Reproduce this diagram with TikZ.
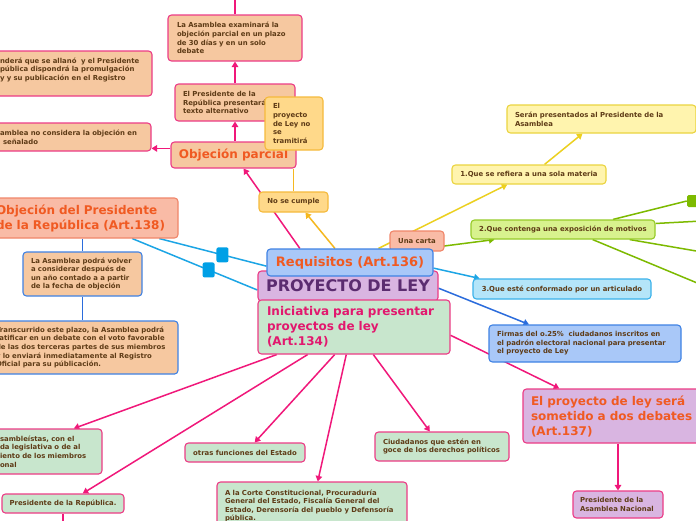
\documentclass[tikz,border=0pt]{standalone}
\usepackage{fontspec}
\setmainfont{DejaVu Sans}
\usetikzlibrary{arrows.meta,calc}
\pgfdeclarelayer{bg}
\pgfsetlayers{bg,main}
\definecolor{cPink}{HTML}{F0187A}
\definecolor{cPinkB}{HTML}{EC3C86}
\definecolor{cPeach}{HTML}{F6C8A0}
\definecolor{cSalmon}{HTML}{F9BBA6}
\definecolor{cSalmonB}{HTML}{F0866A}
\definecolor{cYel}{HTML}{FFD98A}
\definecolor{cYelB}{HTML}{F5BA3C}
\definecolor{cYelL}{HTML}{F5B820}
\definecolor{cLYel}{HTML}{FFF4AE}
\definecolor{cLYelB}{HTML}{EBD440}
\definecolor{cLYelL}{HTML}{ECD020}
\definecolor{cLime}{HTML}{D8F28E}
\definecolor{cLimeB}{HTML}{96CB28}
\definecolor{cLimeL}{HTML}{7DBA00}
\definecolor{cCyan}{HTML}{B4E5F9}
\definecolor{cCyanB}{HTML}{3AB2EA}
\definecolor{cCyanL}{HTML}{1CA5E5}
\definecolor{cBlue}{HTML}{A9C8F8}
\definecolor{cBlueB}{HTML}{3F82E4}
\definecolor{cBlueL}{HTML}{2B6CDC}
\definecolor{cLilac}{HTML}{D9B5E1}
\definecolor{cMint}{HTML}{C8E6CD}
\definecolor{cBrown}{HTML}{5E3B16}
\definecolor{cOrange}{HTML}{F05A22}
\definecolor{cPurple}{HTML}{5B2C70}
\definecolor{cPinkT}{HTML}{E2186E}
\definecolor{cSq}{HTML}{00A0E6}
\newcommand\smtxt{\fontsize{6.9pt}{8.6pt}\selectfont\bfseries}
\newcommand\lgtxt{\fontsize{12pt}{15pt}\selectfont\bfseries}
\newcommand\ml[1]{\mbox{#1}}
\begin{document}
\begin{tikzpicture}[x=1pt,y=-1pt,
  box/.style={draw, rounded corners=3.5pt, line width=1.1pt, inner ysep=0pt, inner xsep=2pt, font=\smtxt, text=cBrown},
  peachP/.style={fill=cPeach, draw=cPinkB},
  peachB/.style={fill=cPeach, draw=cBlueB},
  salmon/.style={fill=cSalmon, draw=cSalmonB},
  yel/.style={fill=cYel, draw=cYelB},
  lyel/.style={fill=cLYel, draw=cLYelB},
  lime/.style={fill=cLime, draw=cLimeB},
  cyanb/.style={fill=cCyan, draw=cCyanB},
  blueb/.style={fill=cBlue, draw=cBlueB},
  lilac/.style={fill=cLilac, draw=cPinkB},
  mint/.style={fill=cMint, draw=cPinkB},
  sqb/.style={fill=cSq, rounded corners=2pt, minimum width=12pt, minimum height=15pt, inner sep=0pt},
  sqg/.style={fill=cLimeL, rounded corners=1.5pt, minimum width=12pt, minimum height=12pt, inner sep=0pt},
  conn/.style={line width=1.5pt},
  arr/.style={-{Triangle[width=6.5pt,length=5.5pt]}}
]
\useasboundingbox (0,0) rectangle (696,520);
\begin{pgfonlayer}{bg}
\fill[white] (0,0) rectangle (696,520);
\end{pgfonlayer}

% ---------- upper left cluster ----------
\node[box,peachP,minimum height=46pt,inner xsep=9pt,text width=116pt,align=left] (exam) at (235,38)
  {\ml{La Asamblea examinará la}\\\ml{objeción parcial en un plazo}\\\ml{de 30 días y en un solo}\\\ml{debate}};
\node[box,peachP,minimum height=37pt,inner xsep=8pt,text width=104pt,align=left] (alt) at (235,102.5)
  {\ml{El Presidente de la}\\\ml{República presentará}\\\ml{texto alternativo}};
\node[box,peachP,minimum width=125pt,minimum height=26pt,font=\lgtxt,text=cOrange] (objp) at (233.5,155)
  {Objeción parcial};
\node[box,yel,minimum height=53pt,inner xsep=8pt,text width=42pt,align=left] (tram) at (294,123.5)
  {\ml{El}\\\ml{proyecto}\\\ml{de Ley no}\\\ml{se}\\\ml{tramitirá}};
\node[box,peachP,minimum height=28pt,inner xsep=12pt,text width=139pt,align=left] (nocons) at (69.5,137)
  {\ml{amblea no considera la objeción en}\\\ml{\hspace*{3pt}señalado}};
\node[box,peachP,minimum height=45pt,inner xsep=12pt,text width=140pt,align=left] (allano) at (70,73.5)
  {\ml{nderá que se allanó \ y el Presidente}\\\ml{pública dispondrá la promulgación}\\\ml{y y su publicación en el Registro}\\\mbox{}};
\node[box,salmon,minimum height=40pt,inner xsep=10pt,text width=172pt,align=left,font=\lgtxt,text=cOrange] (objpres) at (82,218)
  {\ml{Objeción del Presidente}\\\ml{de la República (Art.138)}};
\node[box,peachB,minimum height=44pt,inner xsep=8pt,text width=103pt,align=left] (asamvol) at (82.5,274)
  {\ml{La Asamblea podrá volver}\\\ml{a considerar después de}\\\ml{un año contado a a partir}\\\ml{de la fecha de objeción}};
\node[box,peachB,minimum height=53pt,inner xsep=8pt,text width=174pt,align=left] (transc) at (83,347.5)
  {\ml{Transcurrido este plazo, la Asamblea podrá}\\\ml{ratificar en un debate con el voto favorable}\\\ml{de las dos terceras partes de sus miembros}\\\ml{y lo enviará inmediatamente al Registro}\\\ml{Oficial para su públicación.}};

% ---------- bottom ----------
\node[box,mint,minimum height=45pt,inner xsep=12pt,text width=90pt,align=left] (asamb) at (45,451.5)
  {\ml{sambleístas, con el}\\\ml{da legislativa o de al}\\\ml{iento de los miembros}\\\ml{onal}};
\node[box,mint,minimum width=122pt,minimum height=19pt] (presrep) at (63,503.5) {Presidente de la República.};
\node[box,mint,minimum width=120pt,minimum height=19pt] (otras) at (245,452.5) {otras funciones del Estado};
\node[box,mint,minimum height=48pt,inner xsep=8pt,text width=174pt,align=left] (corte) at (312,506)
  {\ml{A la Corte Constitucional, Procuraduría}\\\ml{General del Estado, Fiscalía General del}\\\ml{Estado, Derensoría del pueblo y Defensoría}\\\ml{pública.}};
\node[box,mint,minimum height=29pt,inner xsep=8pt,text width=118pt,align=left] (ciud) at (442,446.5)
  {\ml{Ciudadanos que estén en}\\\ml{goce de los derechos políticos}};

% ---------- centre ----------
\node[box,salmon,minimum width=54pt,minimum height=20pt] (carta) at (417,241) {Una carta};
\node[box,yel,minimum width=69pt,minimum height=20pt] (nocumple) at (293.5,202) {No se cumple};
\node[box,lilac,minimum width=180pt,minimum height=30pt,font=\fontsize{16pt}{18pt}\selectfont\bfseries,text=cPurple] (proy) at (348,286) {PROYECTO DE LEY};
\node[box,blueb,minimum width=166pt,minimum height=27pt,font=\fontsize{13pt}{15pt}\selectfont\bfseries,text=cOrange] (requis) at (350,262.5) {Requisitos (Art.136)};
\node[box,mint,minimum height=54pt,inner xsep=9pt,text width=174pt,align=left,font=\lgtxt,text=cPinkT] (inic) at (354,327)
  {\ml{Iniciativa para presentar}\\\ml{proyectos de ley}\\\ml{(Art.134)}};

% ---------- right ----------
\node[box,lyel,minimum height=28pt,inner xsep=8pt,text width=173pt,align=left] (seran) at (601.5,119)
  {\ml{Serán presentados al Presidente de la}\\\ml{Asamblea}};
\node[box,lyel,minimum width=154pt,minimum height=19pt] (materia) at (529,174.5) {1.Que se refiera a una sola materia};
\node[box,lime,minimum width=184pt,minimum height=19pt] (motivos) at (563,229.5) {2.Que contenga una exposición de motivos};
\node[sqg] (gsq) at (693,201) {};
\node[box,cyanb,minimum width=178pt,minimum height=20pt] (artic) at (562,289) {3.Que esté conformado por un articulado};
\node[box,blueb,minimum height=37pt,inner xsep=8pt,text width=176pt,align=left] (firmas) at (585,343.5)
  {\ml{Firmas del o.25\% \ ciudadanos inscritos en}\\\ml{el padrón electoral nacional para presentar}\\\ml{el proyecto de Ley}};
\node[box,lilac,minimum height=54pt,inner xsep=8pt,text width=167pt,align=left,font=\lgtxt,text=cOrange] (debates) at (614.5,416)
  {\ml{El proyecto de ley será}\\\ml{sometido a dos debates}\\\ml{(Art.137)}};
\node[box,lilac,minimum height=27pt,inner xsep=7pt,text width=76pt,align=left] (presasam) at (618,504.5)
  {\ml{Presidente de la}\\\ml{Asamblea Nacional}};

% free ends
\coordinate (topend) at (235,-5);
\coordinate (prbot) at (63,528);
\coordinate (g2) at (702,221);
\coordinate (g3) at (702,252);
\coordinate (g4) at (702,285);

% ---------- connectors ----------
\begin{pgfonlayer}{bg}
% pink
\draw[conn,cPink] (exam.north) -- (topend);
\draw[conn,cPink,arr] (alt.north) -- (exam.south);
\draw[conn,cPink,arr] (objp.north -| alt.north) -- (alt.south);
\draw[conn,cPink,arr] (objp.174) -- (nocons.east |- objp.174);
\draw[conn,cPink,arr] ($(requis.north west)!0.2!(requis.north east)$) -- ($(objp.south west)!0.58!(objp.south east)$);
\draw[conn,cPink,arr] ($(inic.south west)!0.10!(inic.south east)$) -- ($(asamb.north west)!0.75!(asamb.north east)$);
\draw[conn,cPink,arr] ($(inic.south west)!0.26!(inic.south east)$) -- ($(presrep.north west)!0.66!(presrep.north east)$);
\draw[conn,cPink,arr] ($(inic.south west)!0.40!(inic.south east)$) -- ($(otras.north west)!0.58!(otras.north east)$);
\draw[conn,cPink,arr] ($(inic.south west)!0.46!(inic.south east)$) -- ($(corte.north west)!0.53!(corte.north east)$);
\draw[conn,cPink,arr] ($(inic.south west)!0.60!(inic.south east)$) -- ($(ciud.north west)!0.41!(ciud.north east)$);
\draw[conn,cPink,arr] ($(inic.north east)!0.65!(inic.south east)$) -- ($(debates.north west)!0.2!(debates.north east)$);
\draw[conn,cPink,arr] (presasam.north |- debates.south) -- (presasam.north);
\draw[conn,cPink] (presrep.south) -- (prbot);
% yellow
\draw[conn,cYelL,arr] ($(requis.north west)!0.41!(requis.north east)$) -- ($(nocumple.south west)!0.67!(nocumple.south east)$);
\draw[conn,cYelL] (nocumple.north) -- (objp.south -| nocumple.north);
\draw[conn,cLYelL,arr] ($(requis.north west)!0.67!(requis.north east)$) -- ($(materia.south west)!0.36!(materia.south east)$);
\draw[conn,cLYelL,arr] ($(materia.north west)!0.6!(materia.north east)$) -- ($(seran.south west)!0.4!(seran.south east)$);
% green
\draw[conn,cLimeL,arr] ($(requis.north west)!0.95!(requis.north east)$) -- ($(motivos.south west)!0.13!(motivos.south east)$);
\draw[conn,cLimeL] ($(motivos.north west)!0.77!(motivos.north east)$) -- (gsq.west);
\draw[conn,cLimeL] ($(motivos.north east)!0.2!(motivos.south east)$) -- (g2);
\draw[conn,cLimeL] ($(motivos.south west)!0.86!(motivos.south east)$) -- (g3);
\draw[conn,cLimeL] ($(motivos.south west)!0.66!(motivos.south east)$) -- (g4);
% cyan / blue
\draw[conn,cCyanL,arr] ($(requis.north east)!0.7!(requis.south east)$) -- ($(artic.north west)!0.04!(artic.north east)$);
\draw[conn,cBlueL,arr] ($(proy.north east)!0.57!(proy.south east)$) -- ($(firmas.north west)!0.21!(firmas.north east)$);
\draw[conn,cCyanL] ($(objpres.south west)!0.9!(objpres.south east)$) -- node[sqb,pos=0.59] (sq1) {} ($(requis.north west)!0.63!(requis.south west)$);
\draw[conn,cCyanL] ($(objpres.south west)!0.76!(objpres.south east)$) -- node[sqb,pos=0.61] (sq2) {} ($(proy.north west)!0.63!(proy.south west)$);
\draw[conn,cBlueL] (asamvol.north) -- (asamvol.north |- objpres.south);
\draw[conn,cBlueL] (asamvol.south) -- (transc.north -| asamvol.south);
\end{pgfonlayer}
\end{tikzpicture}
\end{document}
